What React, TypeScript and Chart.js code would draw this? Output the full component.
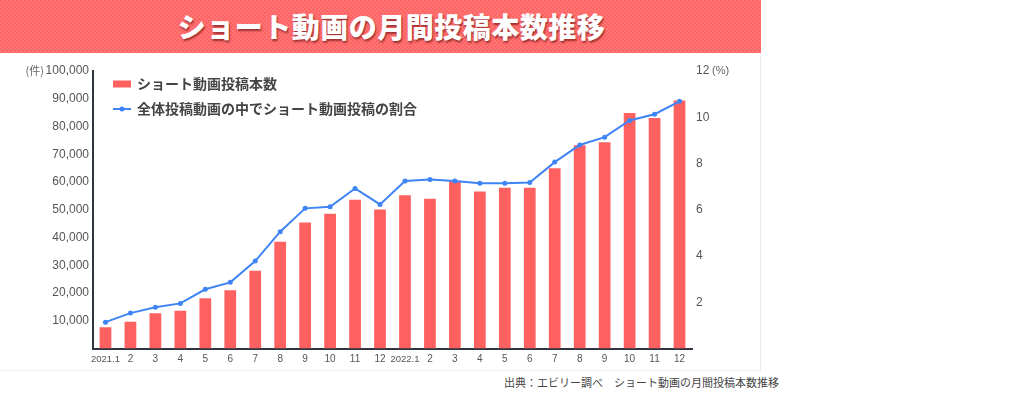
import React, { useEffect, useRef } from 'react';
import { Chart, registerables } from 'chart.js';

Chart.register(...registerables);

// ---------- data ----------
const categories = [
  '2021.1', '2', '3', '4', '5', '6', '7', '8', '9', '10', '11', '12',
  '2022.1', '2', '3', '4', '5', '6', '7', '8', '9', '10', '11', '12',
];
const postCounts = [
  7700, 9600, 12700, 13600, 18100, 21000, 28000, 38500, 45400, 48600, 53600, 50100,
  55200, 54000, 60300, 56600, 57900, 57900, 65000, 73200, 74300, 84900, 83100, 89400,
];
const shortRatio = [
  1.14, 1.53, 1.78, 1.95, 2.56, 2.86, 3.78, 5.05, 6.06, 6.13, 6.92, 6.23,
  7.24, 7.31, 7.24, 7.15, 7.15, 7.18, 8.06, 8.8, 9.14, 9.86, 10.13, 10.69,
];
const countAxisMax = 100000;
const countAxisStep = 10000;
const ratioAxisMax = 12;
const ratioAxisStep = 2;

const titleText = 'ショート動画の月間投稿本数推移';
const barLabel = 'ショート動画投稿本数';
const lineLabel = '全体投稿動画の中でショート動画投稿の割合';
const leftUnit = '(件)';
const rightUnit = '(%)';
const sourceText = '出典：エビリー調べ　ショート動画の月間投稿本数推移';

// ---------- styles ----------
const BAR_COLOR = '#ff6161';
const LINE_COLOR = '#3f84f5';
const AXIS_COLOR = '#2e3440';
const TICK_COLOR = '#555555';
const JP_FONT = '"Noto Sans CJK JP", "Noto Sans", sans-serif';
const NUM_FONT = '"Liberation Sans", Arial, sans-serif';

const overlayPlugin = {
  id: 'overlay',
  afterDraw(chart: any) {
    const { ctx, chartArea } = chart;
    ctx.save();
    const x0 = chartArea.left + 20;
    const yA = chartArea.top + 13;
    const yB = chartArea.top + 38;
    // legend: bar
    ctx.fillStyle = BAR_COLOR;
    ctx.fillRect(x0, yA - 3.5, 18, 7);
    // legend: line
    ctx.strokeStyle = LINE_COLOR;
    ctx.lineWidth = 2;
    ctx.beginPath();
    ctx.moveTo(x0, yB);
    ctx.lineTo(x0 + 18, yB);
    ctx.stroke();
    ctx.beginPath();
    ctx.arc(x0 + 9, yB, 2.5, 0, Math.PI * 2);
    ctx.fillStyle = LINE_COLOR;
    ctx.fill();
    ctx.font = `bold 14px ${JP_FONT}`;
    ctx.fillStyle = '#444444';
    ctx.textBaseline = 'middle';
    ctx.textAlign = 'left';
    ctx.fillText(chart.data.datasets[0].label, x0 + 24, yA);
    ctx.fillText(chart.data.datasets[1].label, x0 + 24, yB);
    // units
    const yTop = chart.scales.y.getPixelForValue(countAxisMax);
    ctx.font = `11px ${JP_FONT}`;
    ctx.fillStyle = '#666666';
    ctx.textAlign = 'right';
    ctx.fillText(leftUnit, 44, yTop);
    const yTopR = chart.scales.y1.getPixelForValue(ratioAxisMax);
    ctx.font = `11px ${NUM_FONT}`;
    ctx.textAlign = 'left';
    ctx.fillText(rightUnit, chartArea.right + 20, yTopR);
    ctx.restore();
  },
};

function ChartPanel() {
  const ref = useRef<HTMLCanvasElement | null>(null);
  useEffect(() => {
    if (!ref.current) return;
    const chart = new Chart(ref.current, {
      type: 'bar',
      data: {
        labels: categories,
        datasets: [
          {
            type: 'bar',
            label: barLabel,
            data: postCounts,
            backgroundColor: BAR_COLOR,
            yAxisID: 'y',
            barPercentage: 0.47,
            categoryPercentage: 1,
            order: 2,
          },
          {
            type: 'line',
            label: lineLabel,
            data: shortRatio,
            borderColor: LINE_COLOR,
            backgroundColor: LINE_COLOR,
            borderWidth: 2,
            pointRadius: 2.5,
            pointBackgroundColor: LINE_COLOR,
            pointBorderWidth: 0,
            tension: 0,
            yAxisID: 'y1',
            order: 1,
          } as any,
        ],
      },
      options: {
        responsive: false,
        animation: false,
        devicePixelRatio: 1,
        layout: { padding: { top: 18, left: 0, right: 0, bottom: 0 } },
        plugins: {
          legend: { display: false },
          title: { display: false },
          tooltip: { enabled: false },
        },
        scales: {
          x: {
            grid: { display: false, drawTicks: false },
            border: { display: true, color: AXIS_COLOR, width: 2 },
            ticks: {
              color: TICK_COLOR,
              autoSkip: false,
              maxRotation: 0,
              padding: 5,
              font: (c: any) => {
                const lbl = categories[c.index] || '';
                return lbl.includes('.')
                  ? { family: '"Liberation Sans Narrow", "Liberation Sans", sans-serif', size: 9.5 }
                  : { family: NUM_FONT, size: 10 };
              },
            },
            afterFit: (s: any) => {
              s.height = 21.5;
            },
          },
          y: {
            position: 'left',
            min: 0,
            max: countAxisMax,
            grid: { display: false, drawTicks: false },
            border: { display: true, color: AXIS_COLOR, width: 2 },
            ticks: {
              stepSize: countAxisStep,
              color: TICK_COLOR,
              padding: 4,
              font: { family: NUM_FONT, size: 12 },
              callback: (v: any) => (v === 0 ? '' : Number(v).toLocaleString('en-US')),
            },
            afterFit: (s: any) => {
              s.width = 93;
            },
          },
          y1: {
            position: 'right',
            min: 0,
            max: ratioAxisMax,
            grid: { display: false, drawTicks: false },
            border: { display: false },
            ticks: {
              stepSize: ratioAxisStep,
              color: TICK_COLOR,
              padding: 4,
              font: { family: NUM_FONT, size: 12 },
              callback: (v: any) => (v === 0 ? '' : String(v)),
            },
            afterFit: (s: any) => {
              s.width = 68;
            },
          },
        },
      } as any,
      plugins: [overlayPlugin],
    });
    return () => chart.destroy();
  }, []);
  return (
    <canvas
      ref={ref}
      width={760}
      height={317}
      style={{ position: 'absolute', left: 0, top: 53, width: 760, height: 317 }}
    />
  );
}

export default function App() {
  return (
    <div
      style={{
        position: 'absolute',
        left: 0,
        top: 0,
        width: 1024,
        height: 397,
        background: '#ffffff',
        overflow: 'hidden',
      }}
    >
      <div
        style={{
          position: 'absolute',
          left: 0,
          top: 0,
          width: 761,
          height: 53,
          backgroundColor: '#ff6464',
          backgroundImage:
            'repeating-conic-gradient(rgba(255,255,255,0.10) 0% 25%, transparent 0% 50%)',
          backgroundSize: '4px 4px',
          display: 'flex',
          alignItems: 'center',
          justifyContent: 'center',
        }}
      >
        <div
          style={{
            color: '#ffffff',
            fontFamily: JP_FONT,
            fontWeight: 900,
            fontSize: 28,
            letterSpacing: 0.5,
            marginLeft: 22,
            marginTop: -2,
            textShadow: '1px 2px 2px rgba(80,0,0,0.55)',
          }}
        >
          {titleText}
        </div>
      </div>
      <div
        style={{
          position: 'absolute',
          left: 0,
          top: 53,
          width: 760,
          height: 317,
          borderRight: '1px solid #ececec',
          borderBottom: '1px solid #f2f2f2',
        }}
      />
      <ChartPanel />
      <div
        style={{
          position: 'absolute',
          right: 1024 - 779,
          top: 374,
          fontFamily: JP_FONT,
          fontSize: 11,
          color: '#444444',
          whiteSpace: 'nowrap',
        }}
      >
        {sourceText}
      </div>
    </div>
  );
}
